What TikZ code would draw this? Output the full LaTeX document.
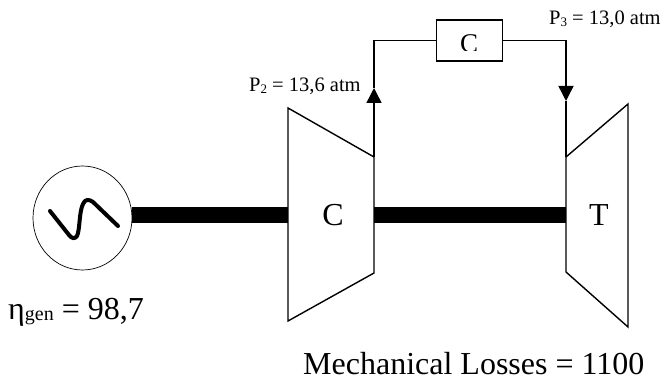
\documentclass[tikz,border=0pt]{standalone}
\usepackage{fontspec}
\setmainfont{Liberation Serif}
\usetikzlibrary{arrows.meta,shapes.geometric}
\newcommand{\labsub}[1]{\raisebox{-2pt}{\fontsize{13}{13}\selectfont #1}}
\tikzset{
 x=1pt,y=-1pt,
 shaft/.style={line width=16pt},
 outline/.style={draw=black,line width=1.4pt,line join=miter},
 pipe/.style={draw=black,line width=1.4pt},
 flow/.style={pipe,-{Triangle[length=15pt,width=15pt]}},
 big/.style={font=\fontsize{32}{36}\selectfont,inner sep=0pt,anchor=base},
 lab/.style={font=\fontsize{20.5}{24}\selectfont,inner sep=0pt,anchor=base west},
 note/.style={font=\fontsize{32}{36}\selectfont,inner sep=0pt,anchor=base west},
}
\begin{document}
\begin{tikzpicture}
\useasboundingbox (0,0) rectangle (666,377);
% generator
\node[draw=black,line width=0.7pt,ellipse,minimum width=99pt,minimum height=104pt,inner sep=0pt] (gen) at (82.5,218) {};
\draw[line width=4pt,line cap=round,line join=round] (50,211) -- (69,235) .. controls (72,239) and (75,239) .. (77,236) .. controls (80,230) and (79,212) .. (83,204) .. controls (85,199) and (89,199) .. (93,202) -- (118,226);
% compressor and turbine
\coordinate (c1) at (288,108);\coordinate (c2) at (374,157);\coordinate (c3) at (374,273);\coordinate (c4) at (288,321);
\coordinate (t1) at (566,157);\coordinate (t2) at (628,104);\coordinate (t3) at (628,327);\coordinate (t4) at (566,272);
\draw[outline] (c1)--(c2)--(c3)--(c4)--cycle;
\draw[outline] (t1)--(t2)--(t3)--(t4)--cycle;
\coordinate (cw) at (288,214.5);\coordinate (ce) at (374,214.5);\coordinate (tw) at (566,214.5);
\draw[shaft] (gen.east |- cw) -- (cw);
\draw[shaft] (ce) -- (tw);
\node[big] (clabel) at (333,225) {C};
\node[big] (tlabel) at (599,225) {T};
% combustor
\node[draw=black,line width=1.2pt,minimum width=66pt,minimum height=41pt,inner sep=0pt] (box) at (469.5,40.5) {};
\begin{scope}
\clip (437,20) rectangle (502,50.5);
\node[font=\fontsize{27}{30}\selectfont,inner sep=0pt,anchor=base] (boxc) at (469,53) {C};
\end{scope}
% pipes
\coordinate (up) at (374,88);\coordinate (corner1) at (374,40.5);
\coordinate (corner2) at (566,40.5);\coordinate (dn) at (566,101);
\draw[flow] (c2) -- (up);
\draw[pipe] (up) -- (corner1) -- (box.west);
\draw[pipe] (box.east) -- (corner2) -- (566,90);
\draw[flow] (corner2) -- (dn);
\draw[pipe] (dn) -- (t1);
% labels
\node[lab] (p2) at (249,91.5) {P\labsub{2} = 13,6 atm};
\node[lab] (p3) at (549,25) {P\labsub{3} = 13,0 atm};
\node[note] (eta) at (8,319) {η\raisebox{-1pt}{\fontsize{20}{20}\selectfont gen} = 98,7};
\node[note] (loss) at (303,374) {Mechanical Losses = 1100};
\end{tikzpicture}
\end{document}
